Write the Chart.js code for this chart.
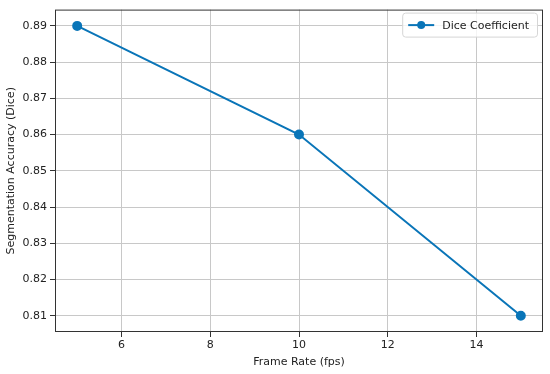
<!DOCTYPE html>
<html>
<head>
<meta charset="utf-8">
<script src="https://cdn.jsdelivr.net/npm/chart.js@4.4.0/dist/chart.umd.min.js"></script>
<style>
  html, body { margin: 0; padding: 0; background: #fff; }
  #wrap { width: 550px; height: 374px; }
</style>
</head>
<body>
<div id="wrap"><canvas id="diceChart" width="550" height="374"></canvas></div>
<script>
// Data
const frameRates = [5, 10, 15];
const diceValues = [0.89, 0.86, 0.81];
const xTicks = [6, 8, 10, 12, 14];
const yTicks = [0.81, 0.82, 0.83, 0.84, 0.85, 0.86, 0.87, 0.88, 0.89];
const seriesLabel = 'Dice Coefficient';

const lineColor = '#0a75b8';
const fontFamily = '"DejaVu Sans", sans-serif';

// Frame around the plot area (matplotlib style spines)
const frameBox = {
    id: 'frameBox',
    afterDraw(chart) {
        const a = chart.chartArea;
        const c = chart.ctx;
        c.save();
        c.strokeStyle = '#333';
        c.lineWidth = 1;
        c.strokeRect(a.left + 0.5, a.top + 0.5, a.right - a.left - 1, a.bottom - a.top - 1);
        c.restore();
    }
};

// Legend box with line + marker sample
const lineLegend = {
    id: 'lineLegend',
    afterDraw(chart) {
        const c = chart.ctx;
        const a = chart.chartArea;
        c.save();
        c.font = '11px ' + fontFamily;
        const textW = c.measureText(seriesLabel).width;
        const w = textW + 48;
        const h = 24;
        const x = a.right - 6 - w;
        const y = a.top + 3;
        c.fillStyle = 'rgba(255,255,255,0.8)';
        c.strokeStyle = '#d6d6d6';
        c.lineWidth = 1;
        c.beginPath();
        c.roundRect(x + 0.5, y + 0.5, w, h, 3);
        c.fill();
        c.stroke();
        const my = y + h / 2 + 0.5;
        c.strokeStyle = lineColor;
        c.lineWidth = 2;
        c.beginPath();
        c.moveTo(x + 6, my);
        c.lineTo(x + 32, my);
        c.stroke();
        c.fillStyle = lineColor;
        c.beginPath();
        c.arc(x + 19, my, 4, 0, Math.PI * 2);
        c.fill();
        c.fillStyle = '#222';
        c.textBaseline = 'middle';
        c.fillText(seriesLabel, x + 40, my + 1);
        c.restore();
    }
};

new Chart(document.getElementById('diceChart'), {
    type: 'line',
    data: {
        datasets: [{
            label: seriesLabel,
            data: frameRates.map((f, i) => ({ x: f, y: diceValues[i] })),
            borderColor: lineColor,
            backgroundColor: lineColor,
            borderWidth: 2,
            pointRadius: 4,
            pointHoverRadius: 4,
            tension: 0
        }]
    },
    options: {
        responsive: false,
        animation: false,
        layout: { padding: { top: 8, right: 7, left: 5, bottom: 5 } },
        plugins: { legend: { display: false }, tooltip: { enabled: false } },
        scales: {
            x: {
                type: 'linear',
                min: 4.5,
                max: 15.5,
                afterBuildTicks: (s) => { s.ticks = xTicks.map(v => ({ value: v })); },
                afterFit: (s) => { s.height = 37; },
                grid: { color: '#c8c8c8', tickColor: '#333', tickLength: 5, drawTicks: true },
                border: { display: false },
                ticks: { color: '#222', font: { family: fontFamily, size: 11 }, padding: 2, maxRotation: 0 },
                title: { display: true, text: 'Frame Rate (fps)', color: '#222', font: { family: fontFamily, size: 11 }, padding: { top: 0, bottom: 0 } }
            },
            y: {
                min: 0.8055,
                max: 0.8945,
                afterBuildTicks: (s) => { s.ticks = yTicks.map(v => ({ value: v })); },
                afterFit: (s) => { s.width = 50; },
                grid: { color: '#c8c8c8', tickColor: '#333', tickLength: 5, drawTicks: true },
                border: { display: false },
                ticks: {
                    color: '#222',
                    font: { family: fontFamily, size: 11 },
                    padding: 3,
                    callback: (v) => v.toFixed(2)
                },
                title: { display: true, text: 'Segmentation Accuracy (Dice)', color: '#222', font: { family: fontFamily, size: 11 }, padding: { top: 0, bottom: 2 } }
            }
        }
    },
    plugins: [frameBox, lineLegend]
});
</script>
</body>
</html>
